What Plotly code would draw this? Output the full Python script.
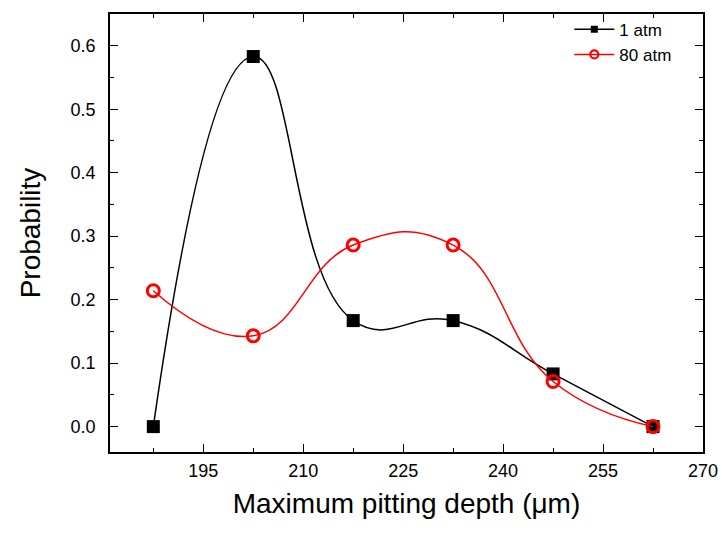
import plotly.graph_objects as go

depth = [187.5, 202.5, 217.5, 232.5, 247.5, 262.5]
prob_1atm = [0.0, 0.583, 0.167, 0.167, 0.083, 0.0]
prob_80atm = [0.214, 0.143, 0.286, 0.286, 0.071, 0.0]

x_ticks = [195, 210, 225, 240, 255, 270]
y_ticks = [0.0, 0.1, 0.2, 0.3, 0.4, 0.5, 0.6]

FONT = "Liberation Sans, Arial, sans-serif"

series = [
    dict(name="1 atm", y=prob_1atm, color="black",
         marker=dict(symbol="square", size=13, color="black"),
         legend_marker=dict(symbol="square", size=7, color="black")),
    dict(name="80 atm", y=prob_80atm, color="red",
         marker=dict(symbol="circle-open", size=12, color="red",
                     line=dict(width=3, color="red")),
         legend_marker=dict(symbol="circle-open", size=8, color="red",
                            line=dict(width=2.2, color="red"))),
]

fig = go.Figure()
for s in series:
    # smoothed curve through the measured points
    fig.add_trace(go.Scatter(
        x=depth, y=s["y"], name=s["name"], mode="lines+markers",
        line=dict(color=s["color"], width=1.5, shape="spline", smoothing=1.3),
        marker=s["marker"], showlegend=False,
    ))
for s in series:
    # compact legend entry with a smaller symbol
    fig.add_trace(go.Scatter(
        x=[None], y=[None], name=s["name"], mode="lines+markers",
        line=dict(color=s["color"], width=1.5),
        marker=s["legend_marker"], showlegend=True,
    ))

axis_common = dict(
    showline=True, linecolor="black", linewidth=1.5, mirror="allticks",
    ticks="inside", ticklen=8, tickwidth=1.2, tickcolor="black",
    showgrid=False, zeroline=False, automargin=False,
    tickfont=dict(family=FONT, size=18, color="black"),
)

fig.update_xaxes(
    range=[181, 270], tickvals=x_ticks, ticktext=[str(v) for v in x_ticks],
    minor=dict(dtick=7.5, tick0=187.5, ticks="inside", ticklen=4,
               tickcolor="black", tickwidth=1.2, showgrid=False),
    ticklabelstandoff=2,
    title=dict(text="Maximum pitting depth (μm)",
               font=dict(family=FONT, size=28, color="black"), standoff=13),
    **axis_common,
)
fig.update_yaxes(
    range=[-0.04, 0.65], tickvals=y_ticks, ticktext=[f"{v:.1f}" for v in y_ticks],
    minor=dict(dtick=0.05, tick0=0, ticks="inside", ticklen=4,
               tickcolor="black", tickwidth=1.2, showgrid=False),
    ticklabelstandoff=9,
    title=dict(text="Probability",
               font=dict(family=FONT, size=28, color="black"), standoff=22),
    **axis_common,
)

fig.update_layout(
    width=722, height=533,
    margin=dict(l=110, r=19, t=12, b=81),
    plot_bgcolor="white", paper_bgcolor="white",
    legend=dict(x=0.955, y=1.005, xanchor="right", yanchor="top",
                bgcolor="rgba(0,0,0,0)",
                font=dict(family=FONT, size=17, color="black"),
                tracegroupgap=0, itemwidth=40),
)

fig.write_html("out.html")
